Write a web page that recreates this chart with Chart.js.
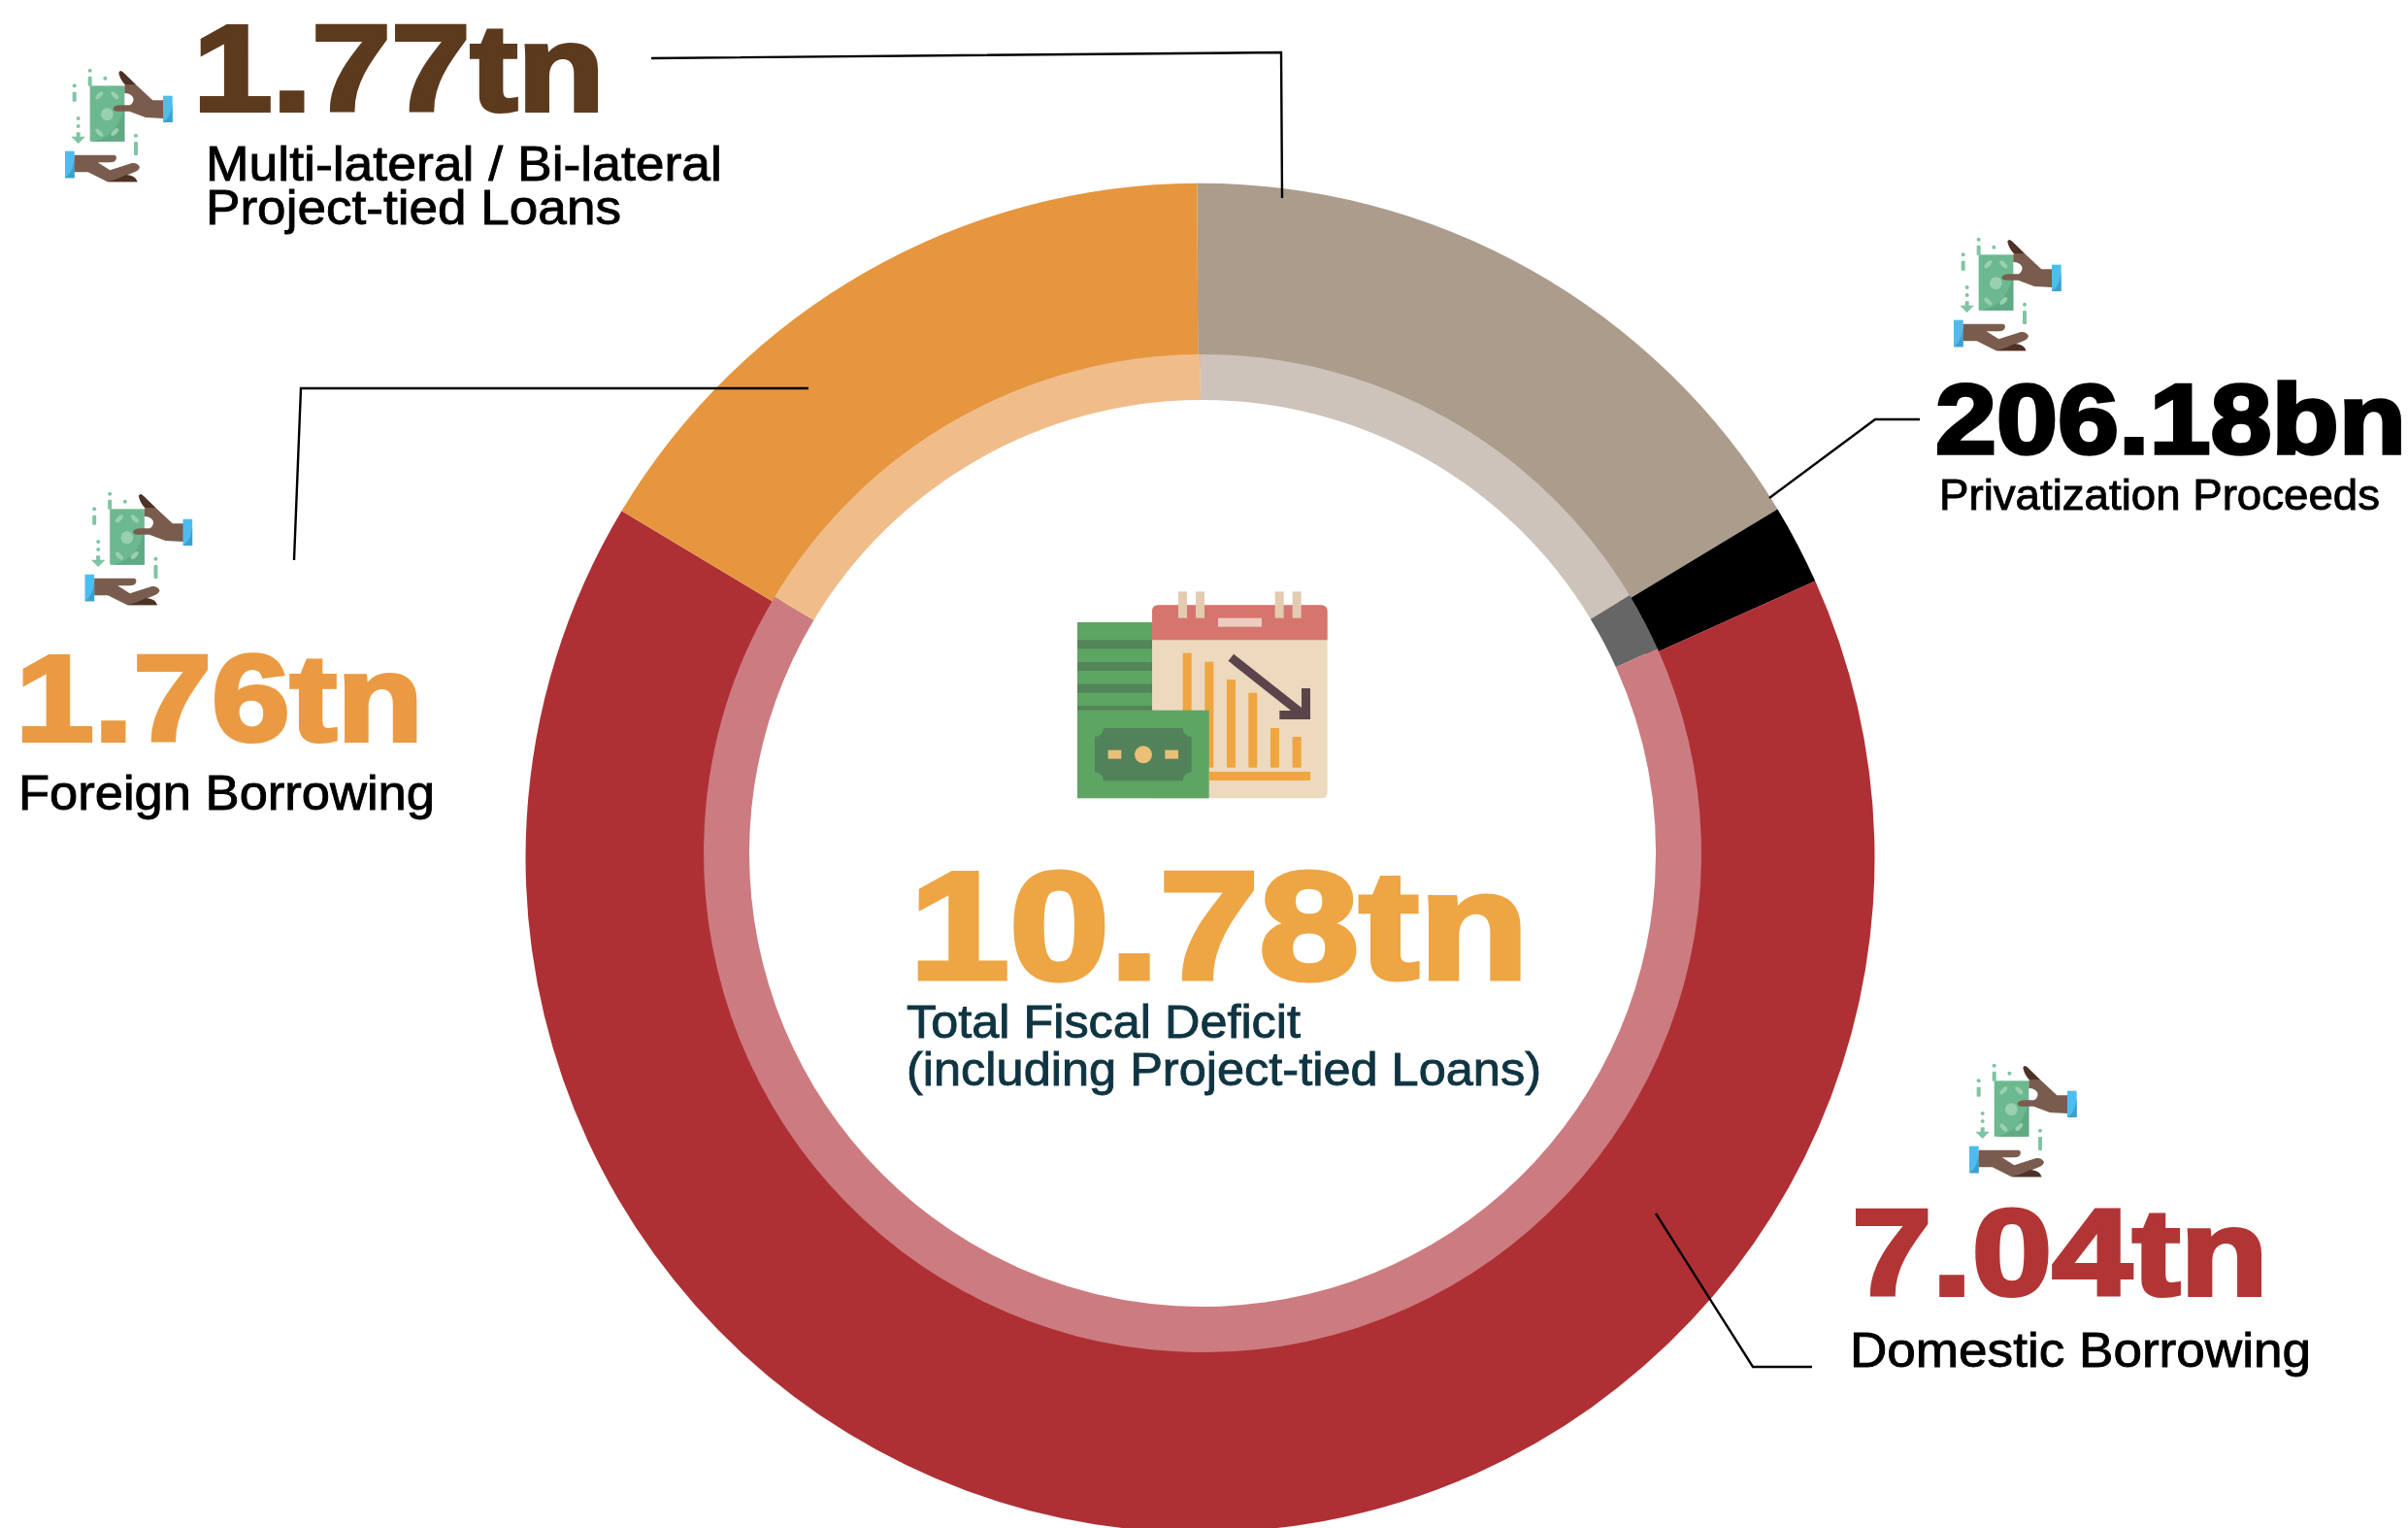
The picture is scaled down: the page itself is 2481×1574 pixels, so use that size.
<!DOCTYPE html>
<html><head><meta charset="utf-8">
<script src="https://cdn.jsdelivr.net/npm/chart.js@4/dist/chart.umd.min.js"></script>
<style>
html,body{margin:0;padding:0;background:#fff;width:2481px;height:1574px;overflow:hidden}
#wrap{position:absolute;left:536px;top:180px;width:1400px;height:1400px}
svg{position:absolute;left:0;top:0}
.big{font-family:"Liberation Sans";font-weight:700;stroke-linejoin:miter;stroke-miterlimit:3}
.lab{font-family:"Liberation Sans";font-weight:400;stroke-width:.9px}
</style></head><body>
<div id="wrap"><canvas id="c" width="1400" height="1400"></canvas></div>
<svg width="2481" height="1574" viewBox="0 0 2481 1574">
<defs>
<g id="hands">
 <rect x="128" y="115" width="107" height="172" fill="#6DB98F"/>
 <path d="M128 287Q210 280 235 180V287Z" fill="#5FA983"/>
 <g fill="#9AD0B0"><circle cx="181" cy="203" r="19"/><ellipse cx="157" cy="145" rx="7" ry="15" transform="rotate(45 157 145)"/><ellipse cx="205" cy="145" rx="7" ry="15" transform="rotate(-45 205 145)"/><ellipse cx="157" cy="260" rx="7" ry="15" transform="rotate(-45 157 260)"/><ellipse cx="205" cy="258" rx="7" ry="15" transform="rotate(45 205 258)"/></g>
 <path d="M235 113H272L322 160H356V216L300 213L250 194H215Q198 194 200 184Q205 175 222 175H252Q265 165 262 152Q255 138 235 138Z" fill="#7A5C4E"/>
 <path d="M217 74Q222 64 232 74L272 113H238Q220 95 217 74Z" fill="#4E3226"/>
 <rect x="354" y="146" width="29" height="82" fill="#4FBCEF"/><path d="M354 228Q378 215 383 170V228Z" fill="#3BA0CC"/>
 <rect x="51" y="317" width="29" height="83" fill="#4FBCEF"/><path d="M51 400Q75 385 80 340V400Z" fill="#3BA0CC"/>
 <path d="M80 329H203Q212 330 209 342Q205 352 190 352H152L190 376L258 354Q275 352 282 366Q280 376 268 381L240 392L275 412H182L122 382H80Z" fill="#7A5C4E"/>
 <path d="M182 412Q215 404 240 390Q270 392 275 412Z" fill="#4E3226"/>
 <g fill="#7FC4A3"><circle cx="128" cy="68" r="6"/><rect x="122" y="86" width="12" height="30" rx="3"/><circle cx="175" cy="92" r="6"/><circle cx="80" cy="115" r="6"/><rect x="74" y="134" width="12" height="30" rx="3"/><circle cx="92" cy="216" r="6"/><circle cx="92" cy="240" r="6"/><path d="M86 259H98V272H114L92 294L70 272H86Z"/><circle cx="270" cy="269" r="6"/><rect x="264" y="288" width="12" height="42" rx="3"/></g>
</g>
<g id="centerIcon">
 <path d="M321 90Q321 70 341 70H843Q863 70 863 90V647Q863 667 843 667H321Z" fill="#ECD9BE"/>
 <path d="M321 90Q321 70 341 70H843Q863 70 863 90V178H321Z" fill="#D6756D"/>
 <g fill="#E3CBB1"><rect x="402" y="28" width="27" height="82"/><rect x="456" y="28" width="27" height="82"/><rect x="701" y="28" width="27" height="82"/><rect x="755" y="28" width="27" height="82"/></g>
 <rect x="525" y="110" width="135" height="27" fill="#EBCDC0"/>
 <g fill="#EFA540"><rect x="416" y="218" width="27" height="200"/><rect x="484" y="245" width="27" height="327"/><rect x="552" y="300" width="27" height="272"/><rect x="619" y="341" width="27" height="231"/><rect x="687" y="450" width="27" height="122"/><rect x="755" y="477" width="27" height="95"/><rect x="497" y="585" width="313" height="27"/></g>
 <path d="M565 232L790 410" stroke="#5C444B" stroke-width="27" fill="none"/>
 <path d="M783 327H810V423H715V396H783Z" fill="#5C444B"/>
 <rect x="90" y="123" width="231" height="285" fill="#5DA562"/>
 <g fill="#548459"><rect x="90" y="178" width="231" height="27"/><rect x="90" y="246" width="231" height="27"/><rect x="90" y="314" width="231" height="27"/><rect x="90" y="381" width="231" height="27"/></g>
 <rect x="90" y="395" width="407" height="272" fill="#5DA562"/>
 <path d="M171 450H416Q418 475 443 477V586Q418 588 416 613H171Q169 588 144 586V477Q169 475 171 450Z" fill="#52825A"/>
 <g fill="#EABF78"><rect x="185" y="518" width="41" height="27"/><rect x="361" y="518" width="41" height="27"/><circle cx="294" cy="532" r="27"/></g>
</g>
</defs>
<use href="#centerIcon" transform="translate(1080 600) scale(.3333)"/>
<use href="#hands" transform="translate(50 50) scale(.3333)"/>
<use href="#hands" transform="translate(70.5 486) scale(.3333)"/>
<use href="#hands" transform="translate(1996 224) scale(.3333)"/>
<use href="#hands" transform="translate(2012 1075) scale(.3333)"/>
<g fill="none" stroke="#000" stroke-width="2.4">
 <path d="M671 60L1320 54L1321 204"/>
 <path d="M833 400H310L303 577"/>
 <path d="M1978 432H1932L1823 513"/>
 <path d="M1706 1250L1806 1408H1867"/>
</g>
<g class="big">
 <text x="199" y="114" font-size="126" textLength="424" lengthAdjust="spacingAndGlyphs" fill="#5C3A1E" stroke="#5C3A1E" stroke-width="4">1.77tn</text>
 <text x="16" y="763" font-size="126" textLength="420" lengthAdjust="spacingAndGlyphs" fill="#EA9A42" stroke="#EA9A42" stroke-width="4">1.76tn</text>
 <text x="1994" y="467" font-size="102" textLength="485" lengthAdjust="spacingAndGlyphs" fill="#000" stroke="#000" stroke-width="3.5">206.18bn</text>
 <text x="937" y="1008" font-size="158" textLength="638" lengthAdjust="spacingAndGlyphs" fill="#EEA544" stroke="#EEA544" stroke-width="5">10.78tn</text>
 <text x="1908" y="1334" font-size="126" textLength="429" lengthAdjust="spacingAndGlyphs" fill="#B23535" stroke="#B23535" stroke-width="4">7.04tn</text>
</g>
<g class="lab">
 <text x="212" y="186" font-size="50" textLength="532" lengthAdjust="spacingAndGlyphs" fill="#000" stroke="#000">Multi-lateral / Bi-lateral</text>
 <text x="212" y="231" font-size="50" textLength="428" lengthAdjust="spacingAndGlyphs" fill="#000" stroke="#000">Project-tied Loans</text>
 <text x="19" y="834" font-size="50" textLength="429" lengthAdjust="spacingAndGlyphs" fill="#000" stroke="#000">Foreign Borrowing</text>
 <text x="1998" y="525" font-size="44" textLength="454" lengthAdjust="spacingAndGlyphs" fill="#000" stroke="#000">Privatization Proceeds</text>
 <text x="934" y="1069" font-size="48" textLength="406" lengthAdjust="spacingAndGlyphs" fill="#0F3442" stroke="#0F3442">Total Fiscal Deficit</text>
 <text x="934" y="1118" font-size="48" textLength="654" lengthAdjust="spacingAndGlyphs" fill="#0F3442" stroke="#0F3442">(including Project-tied Loans)</text>
 <text x="1906" y="1408" font-size="50" textLength="475" lengthAdjust="spacingAndGlyphs" fill="#000" stroke="#000">Domestic Borrowing</text>
</g>
</svg>
<script>
const categories = ["Multi-lateral / Bi-lateral Project-tied Loans","Privatization Proceeds","Domestic Borrowing","Foreign Borrowing"];
const valuesTn = [1.77,0.20618,7.04,1.76];
const ringColors = ["#AC9C8C","#000000","#AE3035","#E6963F"];
const innerColors = ["#CDC3BA","#666666","#CC7C80","#F0BD8A"];
const ringStyle = [
  {inner:505,outer:695,dx:0.5,dy:3.7},
  {inner:467,outer:514,dx:3,dy:-1}
];
const ringGeometry = {
  id:"ringGeometry",
  afterDatasetsUpdate(chart){
    ringStyle.forEach((s,i)=>chart.getDatasetMeta(i).data.forEach(a=>{a.innerRadius=s.inner;a.outerRadius=s.outer;}));
  },
  beforeDatasetDraw(chart,args){const s=ringStyle[args.index];chart.ctx.save();chart.ctx.translate(s.dx,s.dy);},
  afterDatasetDraw(chart){chart.ctx.restore();}
};
new Chart(document.getElementById("c"),{
  type:"doughnut",
  data:{labels:categories,datasets:[
    {data:valuesTn,backgroundColor:ringColors,borderWidth:0,order:1},
    {data:valuesTn,backgroundColor:innerColors,borderWidth:0,order:0}
  ]},
  options:{responsive:false,animation:false,rotation:-0.25,radius:695,cutout:467,
    plugins:{legend:{display:false},tooltip:{enabled:false}},
    layout:{padding:0}},
  plugins:[ringGeometry]
});
</script>
</body></html>
